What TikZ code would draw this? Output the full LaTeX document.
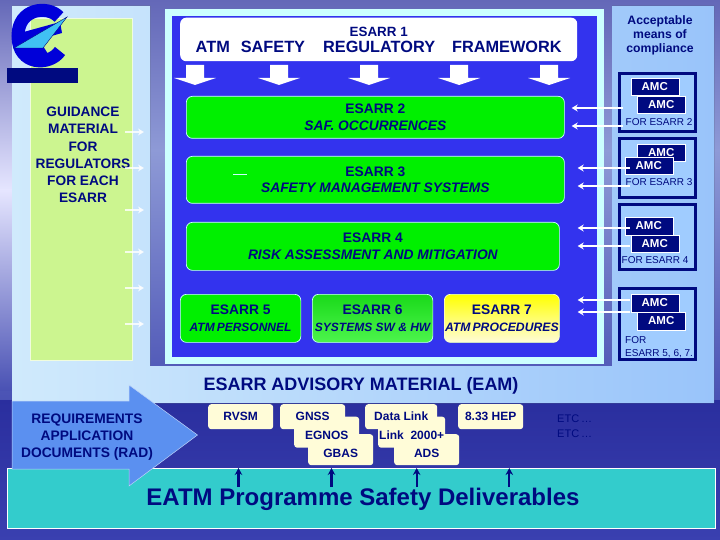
\documentclass[tikz,border=0pt]{standalone}
\usepackage{xcolor}
\usepackage{fontspec}
\setmainfont{Liberation Sans}
\usetikzlibrary{arrows.meta, positioning}
\definecolor{navyink}{HTML}{000A80}
\definecolor{panelblue}{HTML}{3333EE}
\definecolor{frameblue}{HTML}{CCFFFF}
\definecolor{leafgreen}{HTML}{00F000}
\definecolor{paleleaf}{HTML}{CCF590}
\definecolor{creambox}{HTML}{FFFCD8}
\definecolor{tealbox}{HTML}{33CCCC}
\definecolor{amcpanel}{HTML}{A0CCFF}
\definecolor{radblue}{HTML}{5B90F0}
\definecolor{bandleft}{HTML}{D0EAFC}
\definecolor{bandright}{HTML}{99C4FA}
\definecolor{skytop}{HTML}{6468B8}
\definecolor{skymid}{HTML}{8E9AD6}
\definecolor{seamid}{HTML}{4A52B4}
\definecolor{seadark}{HTML}{2A2E9E}
\definecolor{seablue}{HTML}{3A40B0}

\begin{document}
\begin{tikzpicture}[
    x=1pt, y=-1pt,
    txt/.style={inner sep=0pt, align=center, text=navyink},
    esarr/.style={rectangle, draw=frameblue, line width=0.7pt, rounded corners=6pt, fill=leafgreen, anchor=north west, inner sep=0pt, align=center, text=navyink, font=\fontsize{13.8}{16.5}\selectfont\bfseries},
    amc/.style={rectangle, draw=white, line width=0.5pt, fill=navyink, anchor=north west, inner sep=0pt, minimum width=48pt, minimum height=17.5pt, text=white, font=\fontsize{11.5}{12}\selectfont\bfseries},
    amcframe/.style={rectangle, draw=navyink, line width=3pt, fill=amcpanel, anchor=north west, inner sep=0pt},
    amcnote/.style={txt, text=navyink, font=\fontsize{10}{12.5}\selectfont},
    cream/.style={rectangle, rounded corners=3pt, fill=creambox, anchor=north west, inner sep=0pt, align=center, text=navyink, minimum width=65pt, font=\fontsize{12}{12}\selectfont\bfseries},
    low/.style={cream, minimum height=31pt, text height=15pt, text depth=0pt},
    high/.style={cream, minimum height=25pt},
    guide/.style={-{Stealth[length=6pt, width=7pt]}, white, opacity=0.8, line width=1.2pt},
    link/.style={-{Stealth[length=6pt, width=7pt]}, white, line width=1.7pt},
    deliver/.style={-{Stealth[length=7pt, width=7.5pt]}, navyink, line width=2.2pt}
]
    \useasboundingbox (0,0) rectangle (720,540);

    % backdrop
    \shade[top color=skytop, bottom color=skymid] (0,0) rectangle (720,150);
    \shade[top color=skymid, bottom color=seamid] (0,150) rectangle (720,400);
    \shade[top color=seadark, bottom color=seablue] (0,400) rectangle (720,540);
    \shade[top color=skytop, bottom color=white!90!blue] (0,0) rectangle (12,190);
    \shade[top color=white!90!blue, bottom color=seamid] (0,190) rectangle (12,390);
    \fill[left color=bandleft, right color=bandright] (12,6) -- (150,6) -- (150,366) -- (612,366) -- (612,6) -- (714,6) -- (714,403) -- (12,403) -- cycle;

    % frames
    \fill[frameblue] (165,9) rectangle (604,364);
    \fill[panelblue] (172,16) rectangle (597,357);
    \node[rectangle, draw=white!70!paleleaf, fill=paleleaf, anchor=north west, inner sep=0pt, minimum width=102pt, minimum height=342pt] (guidance) at (29.5,18) {};

    % logo
    \draw[blue!85!black, line width=13pt] (59,17) .. controls (48,5) and (18,8) .. (18,36) .. controls (18,66) and (50,66) .. (60,51);
    \fill[blue!85!black] (20,33) -- (60,22) -- (62,33) -- (20,45) -- cycle;
    \fill[blue!85!black] (20,46) -- (43,46) -- (48,54) -- (24,58) -- cycle;
    \draw[navyink, fill=cyan!75!white, line width=0.4pt] (14,48) -- (67,17) -- (43,48) -- cycle;
    \fill[navyink] (7,68) rectangle (78,83);

    % top box
    \node[rectangle, rounded corners=6pt, fill=white, anchor=north west, inner sep=0pt, minimum width=397pt, minimum height=43.5pt, align=center, text=navyink] (esarr1) at (180,17.5)
        {{\fontsize{13.4}{16}\selectfont\bfseries ESARR 1}\\[4pt]{\fontsize{16.3}{16}\selectfont\bfseries ATM\hspace{11pt}SAFETY\hspace{18pt}REGULATORY\hspace{17pt}FRAMEWORK}};
    \foreach \ax in {195,279,369,459,549}
        \fill[white] (\ax-9,65) -- (\ax+9,65) -- (\ax+9,78) -- (\ax+21,78) -- (\ax,85) -- (\ax-21,78) -- (\ax-9,78) -- cycle;

    \node[esarr, minimum width=378pt, minimum height=42pt] (esarr2) at (186,96) {ESARR 2\\\itshape SAF. OCCURRENCES};
    \node[esarr, minimum width=378pt, minimum height=47pt] (esarr3) at (186,156) {ESARR 3\\\itshape SAFETY MANAGEMENT SYSTEMS};
    \node[esarr, minimum width=373pt, minimum height=48pt] (esarr4) at (186,222) {ESARR 4\\\itshape RISK ASSESSMENT AND MITIGATION};
    \node[esarr, minimum width=120.5pt, minimum height=48pt] (esarr5) at (180,294) {ESARR 5\\\itshape\fontsize{12}{16}\selectfont ATM\,PERSONNEL};
    \node[esarr, top color=leafgreen!80!gray, bottom color=leafgreen!70!white, minimum width=120.5pt, minimum height=48pt] (esarr6) at (312,294) {ESARR 6\\\itshape\fontsize{12}{16}\selectfont SYSTEMS SW \& HW};
    \node[esarr, draw=creambox, top color=yellow, bottom color=creambox, minimum width=115pt, minimum height=48pt] (esarr7) at (444,294) {ESARR 7\\\itshape\fontsize{12.2}{16}\selectfont ATM\,PROCEDURES};
    \draw[frameblue, line width=0.6pt] (233,174) -- (247,174);

    % guidance column
    \node[txt, font=\fontsize{13.7}{17.2}\selectfont\bfseries] (guidetext) at (83,155) {GUIDANCE\\MATERIAL\\FOR\\REGULATORS\\FOR EACH\\ESARR};
    \foreach \gy in {132,168,210,252,288,324} {
        \coordinate (gfrom\gy) at (125,\gy);
        \draw[guide] (gfrom\gy) -- ++(19,0);
    }

    % compliance column
    \node[txt, font=\fontsize{12.2}{14.3}\selectfont\bfseries] (acceptable) at (660,35.5) {Acceptable\\means of\\compliance};
    \node[amcframe, minimum width=76pt, minimum height=58pt] (frame2) at (618,72) {};
    \node[amcframe, minimum width=76pt, minimum height=59pt] (frame3) at (618,137) {};
    \node[amcframe, minimum width=76pt, minimum height=65pt] (frame4) at (618,203) {};
    \node[amcframe, minimum width=76pt, minimum height=71pt] (frame5) at (618,287) {};

    \node[amc] (amc2a) at (630.5,78) {AMC};
    \node[amc] (amc2b) at (637,96) {AMC};
    \node[amc] (amc3b) at (637,144) {AMC};
    \node[amc] (amc3a) at (624.5,157) {AMC};
    \node[amc] (amc4a) at (624.5,217) {AMC};
    \node[amc] (amc4b) at (630.5,234.5) {AMC};
    \node[amc] (amc5a) at (630.5,294) {AMC};
    \node[amc] (amc5b) at (637,312) {AMC};

    \node[amcnote] (note2) at (659,122.5) {FOR ESARR 2};
    \node[amcnote] (note3) at (659,182.5) {FOR ESARR 3};
    \node[amcnote] (note4) at (655,260.5) {FOR ESARR 4};
    \node[amcnote, align=left, anchor=north west] (note5) at (625,336.5) {FOR\\ESARR 5, 6, 7.};

    \foreach \lx/\ly/\lbox/\lgap in {623/108/esarr2/7, 623/126/esarr2/7, 630/168/esarr3/13, 630/186/esarr3/13, 630/228/esarr4/18, 630/246/esarr4/18, 630/300/esarr7/18, 630/312/esarr7/18} {
        \coordinate (lfrom) at (\lx,\ly);
        \draw[link, shorten >=\lgap pt] (lfrom) -- (lfrom -| \lbox.east);
    }

    % lower part
    \node[txt, font=\fontsize{18}{20}\selectfont\bfseries] (eam) at (361,386) {ESARR ADVISORY MATERIAL (EAM)};

    \node[low] (gbas) at (308,434) {GBAS};
    \node[low] (egnos) at (294,416.5) {EGNOS};
    \node[high] (gnss) at (280,404) {GNSS};
    \node[high] (rvsm) at (208,404) {RVSM};
    \node[low] (ads) at (394,434) {ADS};
    \node[low, minimum width=67pt] (link2000) at (378,416.5) {Link\ \ 2000+};
    \node[high, minimum width=72pt] (datalink) at (365,404) {Data Link};
    \node[high] (hep) at (458,404) {8.33 HEP};
    \node[txt, align=left, anchor=north west, font=\fontsize{11}{14.5}\selectfont] (etc) at (557,415) {ETC\,\dots\\ETC\,\dots};

    \node[rectangle, draw=white, line width=0.7pt, fill=tealbox, anchor=north west, inner sep=0pt, minimum width=708pt, minimum height=60pt] (eatm) at (6.5,468) {};
    \node[txt, font=\fontsize{24}{25}\selectfont\bfseries] (eatmtext) at (363,499) {EATM Programme Safety Deliverables};
    \draw[white!60!radblue, line width=0.5pt, fill=radblue] (12,401) -- (129,401) -- (129,385) -- (197.5,435) -- (129,486) -- (129,469) -- (12,469) -- cycle;
    \node[txt, font=\fontsize{13.8}{17}\selectfont\bfseries] (radtext) at (87,437) {REQUIREMENTS\\APPLICATION\\DOCUMENTS (RAD)};

    \foreach \dx in {238.5,331.5,416.7,509.3} {
        \coordinate (dfrom) at (\dx,487);
        \draw[deliver] (dfrom) -- (dfrom |- eatm.north);
    }
\end{tikzpicture}
\end{document}
